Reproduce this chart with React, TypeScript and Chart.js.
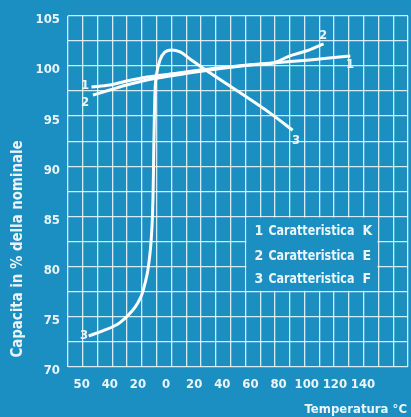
import React, { useEffect, useRef } from "react";
import { Chart, registerables } from "chart.js";

Chart.register(...registerables);

// ---- data ----
const xTickValues = [-60, -40, -20, 0, 20, 40, 60, 80, 100, 120, 140];
const xTickLabels = ["50", "40", "20", "0", "20", "40", "60", "80", "100", "120", "140"];
const yTitle = "Capacita in % della nominale";
const xTitle = "Temperatura °C";

const curveK = [
  { x: -53, y: 97.9 }, { x: -40, y: 98.1 }, { x: -28, y: 98.5 }, { x: -13.5, y: 98.9 },
  { x: 3, y: 99.2 }, { x: 31, y: 99.7 }, { x: 76, y: 100.3 }, { x: 102, y: 100.6 }, { x: 131, y: 101.0 },
];
const curveE = [
  { x: -52, y: 97.1 }, { x: -40, y: 97.6 }, { x: -28, y: 98.1 }, { x: -13.5, y: 98.6 },
  { x: 3, y: 99.0 }, { x: 31, y: 99.6 }, { x: 60, y: 100.1 }, { x: 76, y: 100.3 },
  { x: 88, y: 101.0 }, { x: 102, y: 101.6 }, { x: 112, y: 102.2 },
];
const curveF = [
  { x: -55, y: 73.1 }, { x: -45, y: 73.6 }, { x: -33, y: 74.4 }, { x: -24, y: 75.6 },
  { x: -20, y: 76.4 }, { x: -17, y: 77.3 }, { x: -15, y: 78.3 }, { x: -13, y: 79.6 },
  { x: -11.5, y: 81.2 }, { x: -10.5, y: 82.8 }, { x: -9.8, y: 84.6 }, { x: -9.3, y: 86.8 },
  { x: -9.0, y: 89.0 }, { x: -8.7, y: 92.0 }, { x: -8.3, y: 95.0 }, { x: -7.8, y: 97.6 },
  { x: -6.8, y: 99.1 }, { x: -4.3, y: 100.6 }, { x: -0.7, y: 101.4 }, { x: 4, y: 101.6 },
  { x: 10, y: 101.4 }, { x: 17, y: 100.7 }, { x: 24, y: 100.0 }, { x: 53, y: 97.3 },
  { x: 74, y: 95.3 }, { x: 90, y: 93.6 },
];
const curveLabels = [
  { text: "1", x: -57.6, y: 98.0 },
  { text: "2", x: -57.6, y: 96.3 },
  { text: "3", x: -58.3, y: 73.1 },
  { text: "2", x: 111.7, y: 103.0 },
  { text: "1", x: 130.9, y: 100.1 },
  { text: "3", x: 92.5, y: 92.6 },
];
const legendNums = ["1", "2", "3"];
const legendNames = ["Caratteristica", "Caratteristica", "Caratteristica"];
const legendCodes = ["K", "E", "F"];

const BG = "#1c8fc2";
const FG = "#eaf5fb";
const GRID = "rgba(240,248,252,0.88)";
const FONT = "'DejaVu Sans Condensed', 'Liberation Sans Narrow', 'DejaVu Sans', sans-serif";

const decor = {
  id: "decor",
  beforeDraw(chart: any) {
    const ctx = chart.ctx;
    ctx.save();
    ctx.fillStyle = BG;
    ctx.fillRect(0, 0, chart.width, chart.height);
    ctx.restore();
  },
  beforeDatasetsDraw(chart: any) {
    const ctx = chart.ctx;
    const xg = chart.scales.xg;
    const y = chart.scales.y;
    ctx.save();
    const l = xg.getPixelForValue(12) + 1;
    const r = xg.getPixelForValue(21) - 1;
    const t = y.getPixelForValue(85) + 1;
    const b = y.getPixelForValue(77.5) - 1;
    ctx.fillStyle = BG;
    ctx.fillRect(l, t, r - l, b - t);
    ctx.fillStyle = FG;
    ctx.font = `bold 14px ${FONT}`;
    ctx.textBaseline = "middle";
    const rows = [231, 256, 279];
    for (let i = 0; i < 3; i++) {
      const yy = rows[i];
      ctx.textAlign = "left";
      ctx.fillText(legendNums[i], l + 8, yy);
      ctx.fillText(legendNames[i], l + 22, yy, 86);
      ctx.fillText(legendCodes[i], l + 116, yy);
    }
    ctx.restore();
  },
  afterDraw(chart: any) {
    const ctx = chart.ctx;
    const x = chart.scales.x;
    const y = chart.scales.y;
    ctx.save();
    ctx.fillStyle = FG;
    ctx.textBaseline = "middle";
    ctx.textAlign = "center";
    ctx.font = `bold 13px ${FONT}`;
    for (const c of curveLabels) {
      ctx.fillText(c.text, x.getPixelForValue(c.x), y.getPixelForValue(c.y));
    }
    ctx.font = `bold 13px ${FONT}`;
    ctx.textAlign = "right";
    ctx.fillText(xTitle, 407, 410, 104);
    ctx.font = `bold 15px ${FONT}`;
    ctx.translate(18, 249);
    ctx.rotate(-Math.PI / 2);
    ctx.textAlign = "center";
    ctx.fillText(yTitle, 0, 0, 217);
    ctx.restore();
  },
};

export default function App() {
  const ref = useRef<HTMLCanvasElement>(null);
  useEffect(() => {
    if (!ref.current) return;
    const mk = (data: any) => ({
      data,
      borderColor: "#ffffff",
      borderWidth: 3,
      pointRadius: 0,
      fill: false,
      cubicInterpolationMode: "monotone" as const,
      xAxisID: "x",
      yAxisID: "y",
    });
    const chart = new Chart(ref.current, {
      type: "line",
      data: { datasets: [mk(curveK), mk(curveE), mk(curveF)] },
      plugins: [decor],
      options: {
        responsive: false,
        animation: false,
        devicePixelRatio: 1,
        layout: { padding: { top: 12, right: 3, left: 0, bottom: 0 } },
        plugins: { legend: { display: false }, tooltip: { enabled: false } },
        scales: {
          xg: {
            type: "linear",
            position: "bottom",
            min: 0,
            max: 23,
            ticks: { display: false, stepSize: 1 },
            grid: { color: GRID, lineWidth: 1.3, drawTicks: false },
            border: { display: false },
            afterFit: (s: any) => { s.height = 0; },
          },
          x: {
            type: "linear",
            position: "bottom",
            min: -69.7,
            max: 172,
            grid: { display: false, drawTicks: false },
            border: { display: false },
            ticks: {
              color: FG,
              font: { family: FONT, size: 13, weight: "bold" },
              padding: 10,
              autoSkip: false,
              maxRotation: 0,
              callback: (_v: any, i: number) => xTickLabels[i],
            },
            afterBuildTicks: (s: any) => { s.ticks = xTickValues.map((v) => ({ value: v })); },
            afterFit: (s: any) => { s.height = 50; },
          },
          y: {
            type: "linear",
            min: 70,
            max: 105,
            grid: { color: GRID, lineWidth: 1.3, drawTicks: false },
            border: { display: false },
            ticks: {
              stepSize: 2.5,
              color: FG,
              font: { family: FONT, size: 13, weight: "bold" },
              padding: 8,
              autoSkip: false,
              labelOffset: 4,
              callback: (v: any) => (Number(v) % 5 === 0 ? String(v) : ""),
            },
            afterFit: (s: any) => { s.width = 68; },
          },
        },
      } as any,
    });
    return () => chart.destroy();
  }, []);
  return (
    <div style={{ position: "fixed", left: 0, top: 0, width: 411, height: 417, background: BG }}>
      <canvas ref={ref} width={411} height={417} />
    </div>
  );
}
